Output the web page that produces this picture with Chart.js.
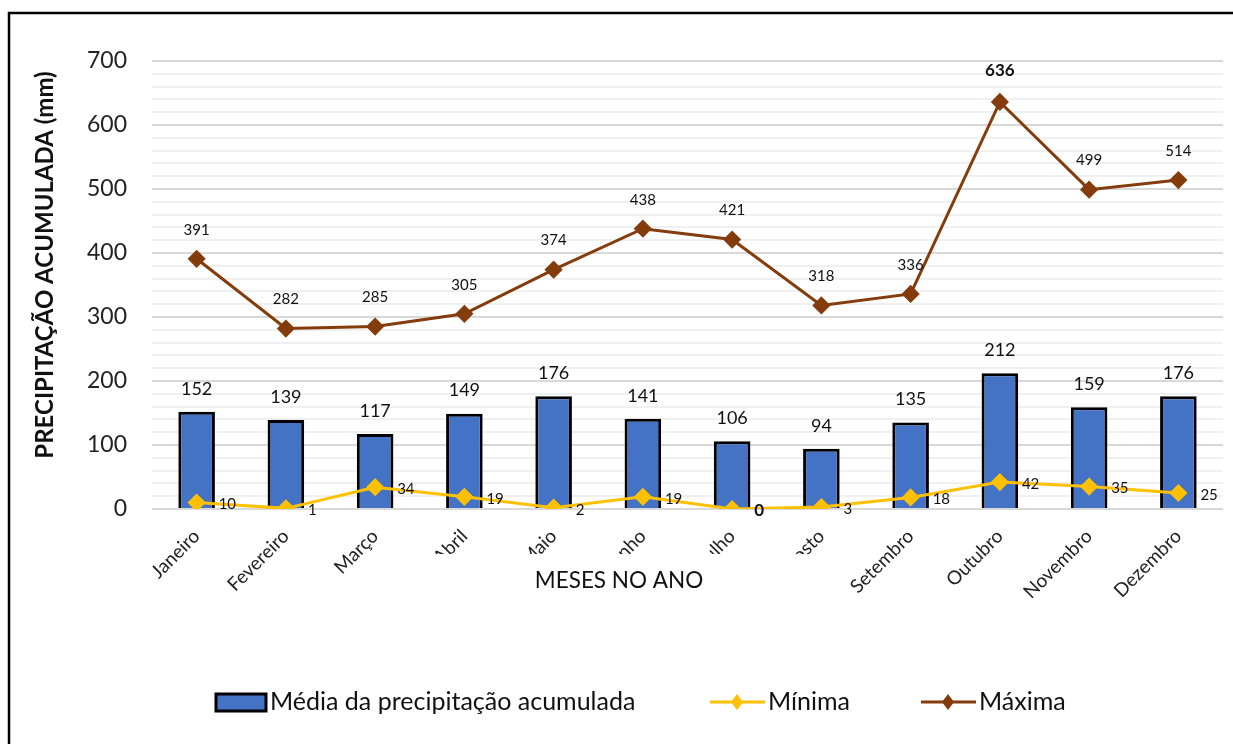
<!DOCTYPE html>
<html>
<head>
<meta charset="utf-8">
<script src="https://cdn.jsdelivr.net/npm/chart.js@4.4.1/dist/chart.umd.min.js"></script>
<style>
  html, body { margin: 0; padding: 0; background: #fff; }
  #wrap { width: 1233px; height: 744px; position: relative; }
</style>
</head>
<body>
<div id="wrap"><canvas id="chart" width="1233" height="744"></canvas></div>
<script>
// dados
const meses = ['Janeiro', 'Fevereiro', 'Março', 'Abril', 'Maio', 'Junho', 'Julho', 'Agosto', 'Setembro', 'Outubro', 'Novembro', 'Dezembro'];
const media = [152, 139, 117, 149, 176, 141, 106, 94, 135, 212, 159, 176];
const minima = [10, 1, 34, 19, 2, 19, 0, 3, 18, 42, 35, 25];
const maxima = [391, 282, 285, 305, 374, 438, 421, 318, 336, 636, 499, 514];
const yTicks = [0, 100, 200, 300, 400, 500, 600, 700];

const FONT = "Lato, 'Open Sans', sans-serif";
const AZUL = '#4472C4';
const AMARELO = '#FFC000';
const MARROM = '#843C0C';

// rótulos, títulos, legenda e moldura desenhados à mão
const extras = {
  id: 'extras',
  afterDraw(chart) {
    const ctx = chart.ctx;
    ctx.save();
    ctx.fillStyle = '#111';
    ctx.textBaseline = 'middle';

    // rótulos das barras
    ctx.textAlign = 'center';
    ctx.font = '18px ' + FONT;
    chart.getDatasetMeta(0).data.forEach((bar, i) => {
      ctx.fillText(String(media[i]), bar.x, bar.y - 23);
    });

    // rótulos da máxima
    chart.getDatasetMeta(2).data.forEach((pt, i) => {
      const top = maxima[i] === Math.max(...maxima);
      ctx.font = (top ? 'bold 17px ' : '15px ') + FONT;
      ctx.fillText(String(maxima[i]), pt.x, pt.y - (top ? 31 : 29));
    });

    // rótulos da mínima
    ctx.textAlign = 'left';
    chart.getDatasetMeta(1).data.forEach((pt, i) => {
      const zero = minima[i] === 0;
      ctx.font = (zero ? 'bold 17px ' : '15px ') + FONT;
      ctx.fillText(String(minima[i]), pt.x + 22, pt.y + 2);
    });

    // título do eixo x com fundo branco (cobre parte dos meses, como no original)
    ctx.fillStyle = '#fff';
    ctx.fillRect(425, 554, 400, 50);
    ctx.fillStyle = '#111';
    ctx.textAlign = 'center';
    ctx.font = '22.5px ' + FONT;
    ctx.fillText('MESES NO ANO', 619, 581);

    // título do eixo y
    ctx.save();
    ctx.translate(45, 265);
    ctx.rotate(-Math.PI / 2);
    ctx.font = 'bold 24px ' + FONT;
    ctx.fillText('PRECIPITAÇÃO ACUMULADA (mm)', 0, 0);
    ctx.restore();

    // legenda
    const ly = 702;
    ctx.font = '25px ' + FONT;
    ctx.textAlign = 'left';
    ctx.fillStyle = AZUL;
    ctx.fillRect(216, 694, 50, 17);
    ctx.strokeStyle = '#000';
    ctx.lineWidth = 3;
    ctx.strokeRect(216, 694, 50, 17);
    ctx.fillStyle = '#111';
    ctx.fillText('Média da precipitação acumulada', 270, ly);

    [[710, AMARELO, 'Mínima'], [921, MARROM, 'Máxima']].forEach(([x, cor, txt]) => {
      ctx.strokeStyle = cor;
      ctx.lineWidth = 3;
      ctx.beginPath();
      ctx.moveTo(x, ly);
      ctx.lineTo(x + 55, ly);
      ctx.stroke();
      ctx.fillStyle = cor;
      ctx.beginPath();
      ctx.moveTo(x + 27, ly - 8);
      ctx.lineTo(x + 33, ly);
      ctx.lineTo(x + 27, ly + 8);
      ctx.lineTo(x + 21, ly);
      ctx.closePath();
      ctx.fill();
      ctx.fillStyle = '#111';
      ctx.fillText(txt, x + 58, ly);
    });

    // moldura
    ctx.strokeStyle = '#000';
    ctx.lineWidth = 2.5;
    ctx.strokeRect(9, 13, 1400, 900);
    ctx.restore();
  }
};

new Chart(document.getElementById('chart'), {
  data: {
    labels: meses,
    datasets: [
      {
        type: 'bar',
        label: 'Média da precipitação acumulada',
        data: media,
        backgroundColor: AZUL,
        borderColor: '#000',
        borderWidth: 3,
        barPercentage: 0.41,
        categoryPercentage: 1,
        order: 3,
      },
      {
        type: 'line',
        label: 'Mínima',
        data: minima,
        borderColor: AMARELO,
        backgroundColor: AMARELO,
        borderWidth: 3,
        pointStyle: 'rectRot',
        pointRadius: 7,
        pointBackgroundColor: AMARELO,
        pointBorderColor: AMARELO,
        tension: 0,
        order: 1,
      },
      {
        type: 'line',
        label: 'Máxima',
        data: maxima,
        borderColor: MARROM,
        backgroundColor: MARROM,
        borderWidth: 3,
        pointStyle: 'rectRot',
        pointRadius: 7,
        pointBackgroundColor: MARROM,
        pointBorderColor: MARROM,
        tension: 0,
        order: 2,
      },
    ],
  },
  options: {
    responsive: false,
    animation: false,
    devicePixelRatio: 1,
    layout: { padding: { left: 0, top: 61, right: 8, bottom: 0 } },
    plugins: { legend: { display: false }, tooltip: { enabled: false } },
    scales: {
      x: {
        grid: { display: false },
        border: { display: false },
        ticks: {
          color: '#222',
          font: { family: FONT, size: 19 },
          minRotation: 45,
          maxRotation: 45,
          padding: 8,
          autoSkip: false,
        },
        afterFit: s => { s.height = 235; },
      },
      y: {
        min: 0,
        max: 700,
        border: { display: false },
        grid: {
          drawTicks: false,
          lineWidth: 2,
          color: c => yTicks.includes(c.tick.value) ? '#d9d9d9' : '#f0f0f0',
        },
        ticks: {
          stepSize: 20,
          autoSkip: false,
          padding: 25,
          color: '#222',
          font: { family: FONT, size: 23 },
          callback: v => yTicks.includes(v) ? String(v) : '',
        },
        afterFit: s => { s.width = 152; },
      },
    },
  },
  plugins: [extras],
});
</script>
</body>
</html>
